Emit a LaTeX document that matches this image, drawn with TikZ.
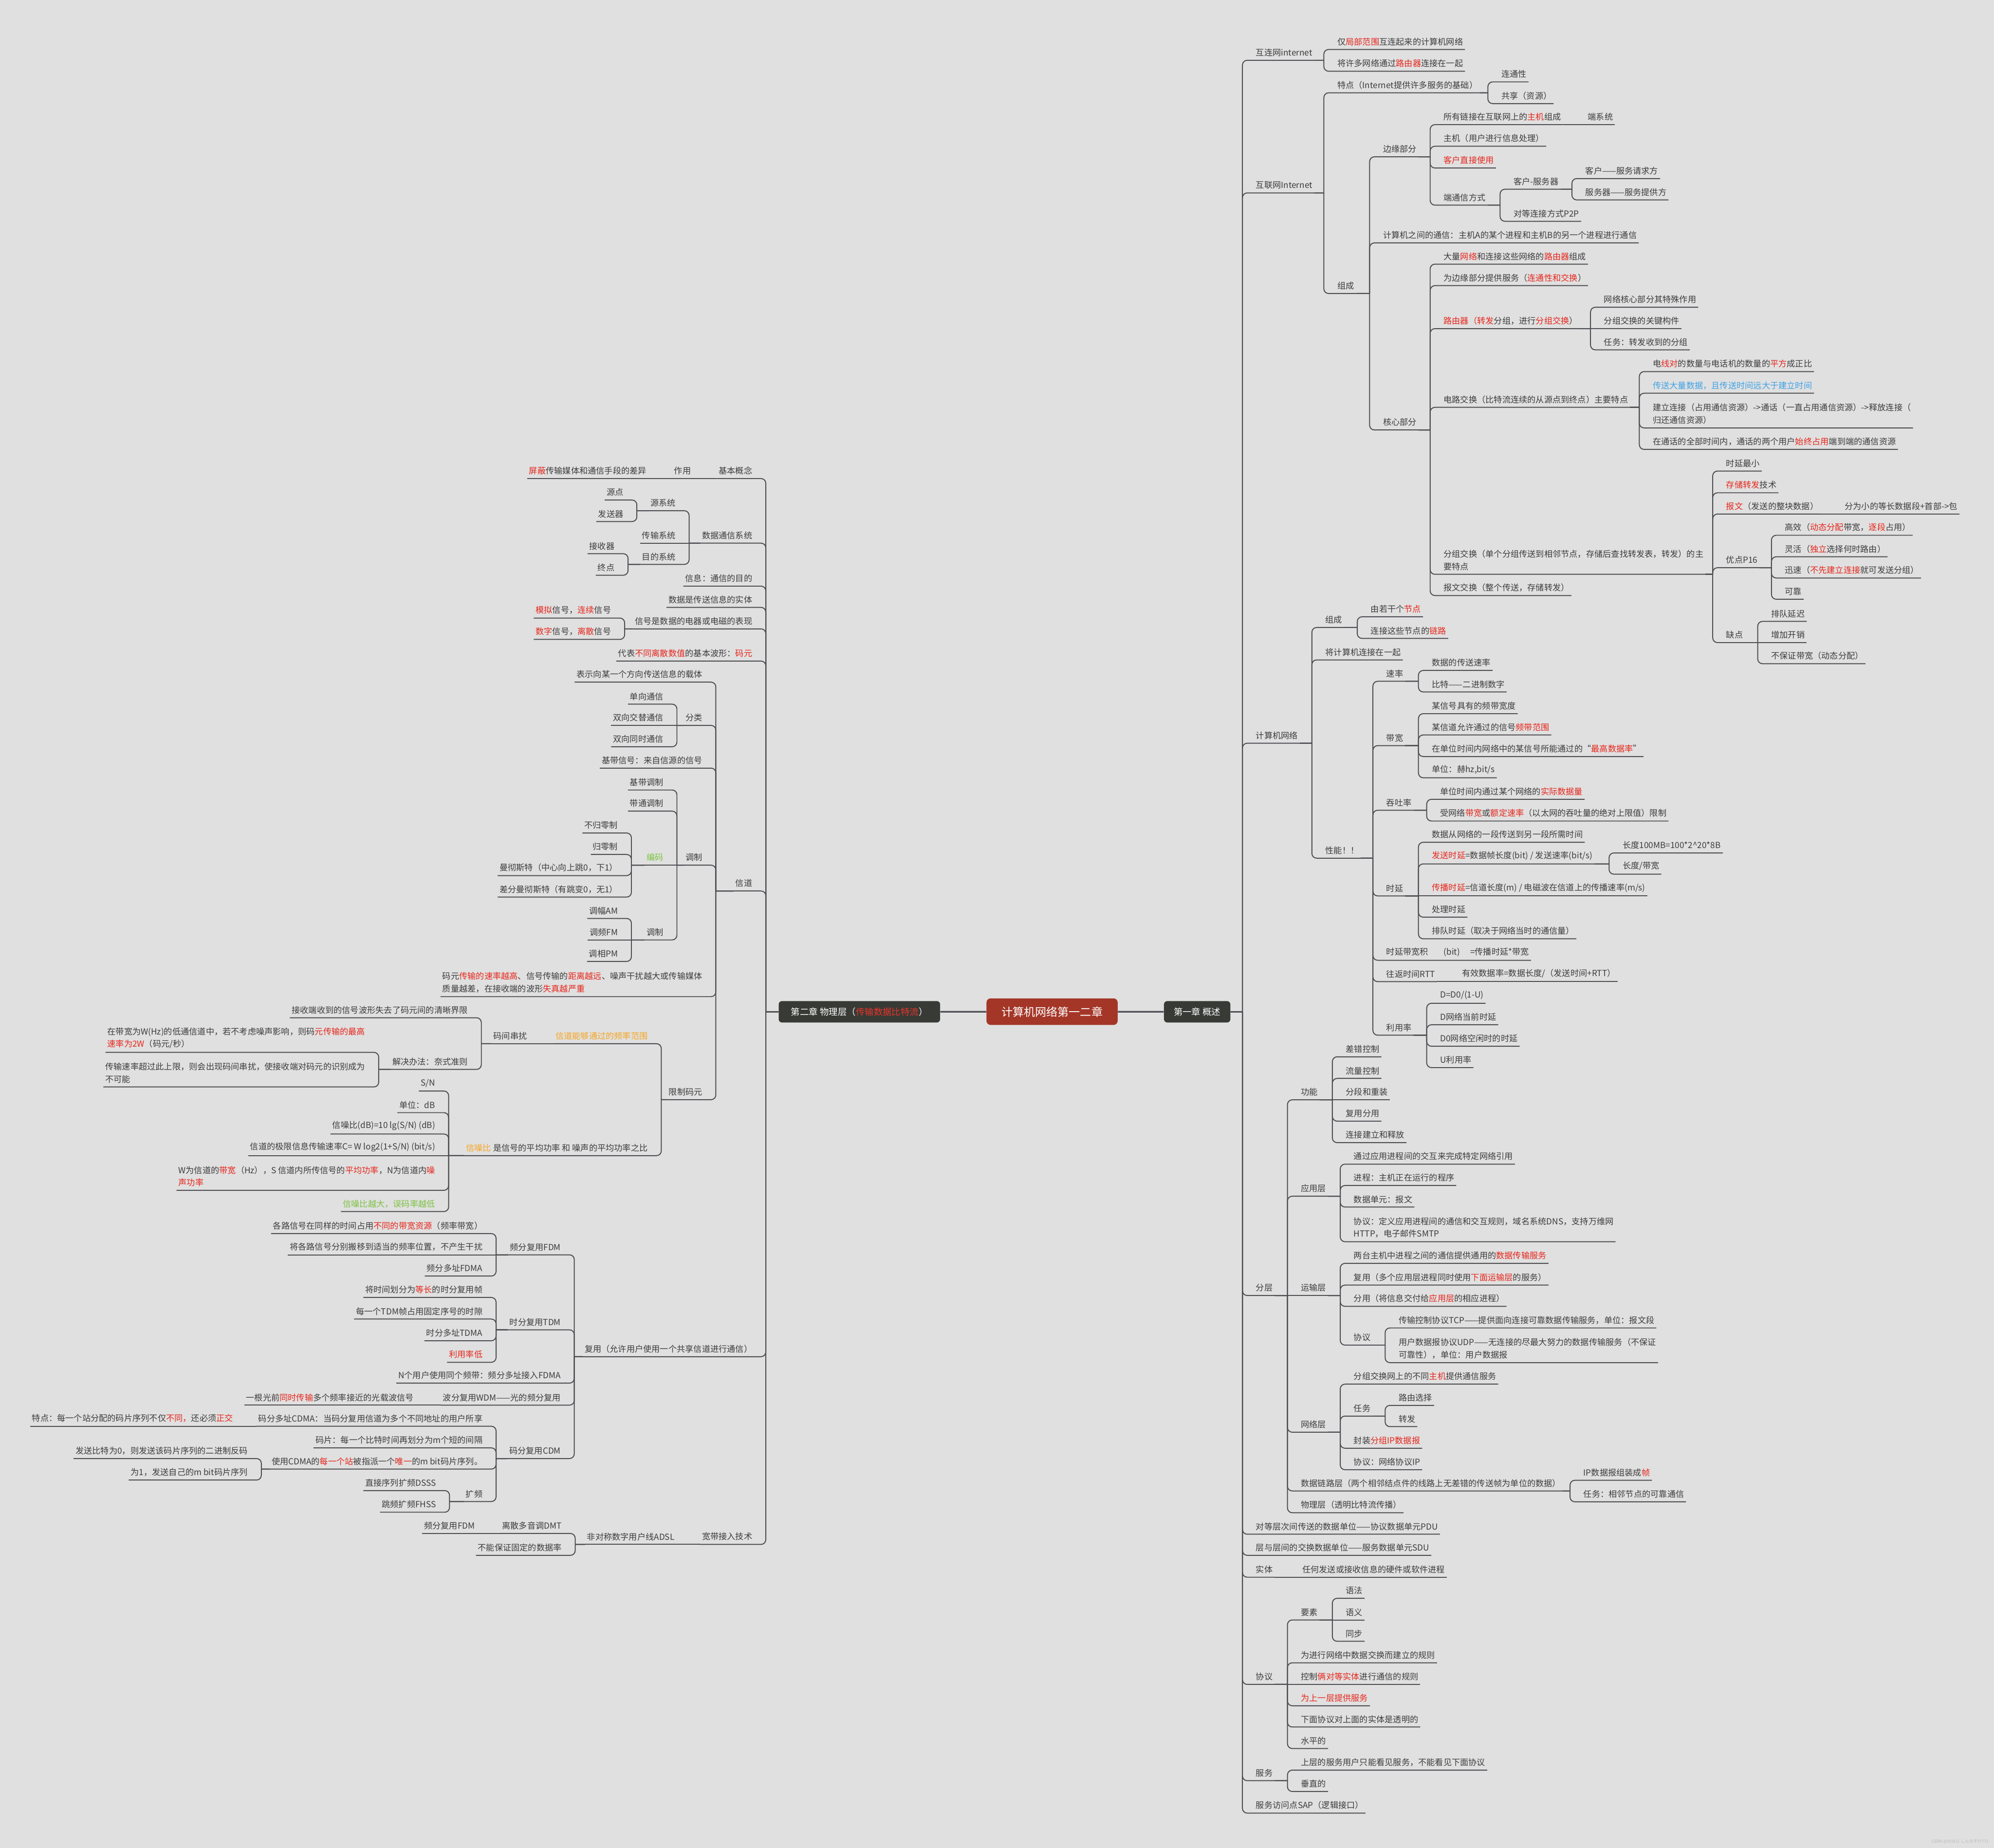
\documentclass[tikz,border=0pt]{standalone}
\usepackage{fontspec}
\setmainfont{Noto Sans CJK SC}
\usepackage{tikz}

\definecolor{paper}{HTML}{E0E0E0}
\definecolor{ink}{HTML}{3C3C3C}
\definecolor{wirec}{HTML}{4D4D52}
\definecolor{hot}{HTML}{E6261C}
\definecolor{sky}{HTML}{3FA2E6}
\definecolor{leaf}{HTML}{7DC242}
\definecolor{amber}{HTML}{F5A623}
\definecolor{chapbg}{HTML}{383A35}
\definecolor{rootbg}{HTML}{A43628}
\definecolor{chapred}{HTML}{E8352B}

\newcommand{\redt}[1]{\textcolor{hot}{#1}}
\newcommand{\bluet}[1]{\textcolor{sky}{#1}}
\newcommand{\greent}[1]{\textcolor{leaf}{#1}}
\newcommand{\oranget}[1]{\textcolor{amber}{#1}}

\begin{document}
\begin{tikzpicture}[x=0.3733mm, y=-0.3733mm,
    txt/.style={font=\fontsize{7pt}{10.4pt}\selectfont, text=ink, inner xsep=0.5mm, inner ysep=1.05mm},
    rnode/.style={txt, anchor=south west, xshift=3.4mm, align=left},
    lnode/.style={txt, anchor=south east, xshift=-3.4mm, align=right},
    chap/.style={rectangle, rounded corners=1mm, fill=chapbg, text=white, font=\fontsize{7.5pt}{9pt}\selectfont, minimum height=6.3mm},
    rootbox/.style={rectangle, rounded corners=1.2mm, fill=rootbg, text=white, font=\fontsize{9.4pt}{11pt}\selectfont, minimum width=38.5mm, minimum height=7.8mm},
    wire/.style={draw=wirec, line width=0.8pt},
    trunk/.style={draw=wirec, line width=1.3pt},
    rlink/.style={wire, to path={(\tikztostart.south east) -- ([xshift=-3.4mm]\tikztotarget.south west |- \tikztostart.south east) ([xshift=-3.4mm]\tikztotarget.south west |- \tikztostart.south east) [rounded corners=1.4mm] |- (\tikztotarget.south east)}},
    rline/.style={wire, to path={(\tikztostart.south east) -- (\tikztotarget.south east)}},
    rtrunk/.style={wire, to path={(\tikztostart.east) -- ([xshift=-3.4mm]\tikztotarget.south west |- \tikztostart.east) ([xshift=-3.4mm]\tikztotarget.south west |- \tikztostart.east) [rounded corners=1.4mm] |- (\tikztotarget.south east)}},
    llink/.style={wire, to path={(\tikztostart.south west) -- ([xshift=3.4mm]\tikztotarget.south east |- \tikztostart.south west) ([xshift=3.4mm]\tikztotarget.south east |- \tikztostart.south west) [rounded corners=1.4mm] |- (\tikztotarget.south west)}},
    lline/.style={wire, to path={(\tikztostart.south west) -- (\tikztotarget.south west)}},
    ltrunk/.style={wire, to path={(\tikztostart.west) -- ([xshift=3.4mm]\tikztotarget.south east |- \tikztostart.west) ([xshift=3.4mm]\tikztotarget.south east |- \tikztostart.west) [rounded corners=1.4mm] |- (\tikztotarget.south west)}},
    wmark/.style={font=\fontsize{3.5pt}{4pt}\selectfont, text=gray!55, anchor=east, inner sep=0pt}
]
\useasboundingbox (0,0) rectangle (1568,1453);
\fill[paper] (0,0) rectangle (1568,1453);

% Centre and chapters
\node[rootbox] (root) at (827.3,795.5) {计算机网络第一二章};
\node[chap, minimum width=19.5mm] (ch1) at (941.4,795.6) {第一章 概述};
\node[chap, minimum width=47.4mm] (ch2) at (675.8,795.6) {第二章 物理层（\textcolor{chapred}{传输数据比特流}）};
\draw[trunk] (ch2) -- (root);
\draw[trunk] (root) -- (ch1);

% Chapter 1: 互连网
\node[rnode] (r1) at (977,47.4) {互连网internet};
\node[rnode] (r1a) at (1041,38.9) {仅\redt{局部范围}互连起来的计算机网络};
\node[rnode] (r1b) at (1041,56.0) {将许多网络通过\redt{路由器}连接在一起};

% 互联网
\node[rnode] (r2) at (977,151.7) {互联网Internet};
\node[rnode] (r2a) at (1041,73.0) {特点（Internet提供许多服务的基础）};
\node[rnode] (r2a1) at (1170,64.4) {连通性};
\node[rnode] (r2a2) at (1170,81.5) {共享（资源）};
\node[rnode] (r2b) at (1041,230.8) {组成};
\node[rnode] (r2b1) at (1077,123.3) {边缘部分};
\node[rnode] (r2b1a) at (1124.6,98.0) {所有链接在互联网上的\redt{主机}组成};
\node[rnode] (r2b1a1) at (1238,98.0) {端系统};
\node[rnode] (r2b1b) at (1124.6,115.0) {主机（用户进行信息处理）};
\node[rnode] (r2b1c) at (1124.6,132.1) {\redt{客户直接使用}};
\node[rnode] (r2b1d) at (1124.6,161.3) {端通信方式};
\node[rnode] (r2b1d1) at (1179.6,148.8) {客户-服务器};
\node[rnode] (r2b1d1a) at (1236.1,140.4) {客户——服务请求方};
\node[rnode] (r2b1d1b) at (1236.1,157.2) {服务器——服务提供方};
\node[rnode] (r2b1d2) at (1179.6,174.0) {对等连接方式P2P};
\node[rnode] (r2b2) at (1077,191.0) {计算机之间的通信：主机A的某个进程和主机B的另一个进程进行通信};
\node[rnode] (r2b3) at (1077,338.1) {核心部分};
\node[rnode] (r2b3a) at (1124.6,207.7) {大量\redt{网络}和连接这些网络的\redt{路由器}组成};
\node[rnode] (r2b3b) at (1124.6,224.6) {为边缘部分提供服务（\redt{连通性和交换}）};
\node[rnode] (r2b3c) at (1124.6,258.4) {\redt{路由器（转发}分组，进行\redt{分组交换}）};
\node[rnode] (r2b3c1) at (1250.7,241.6) {网络核心部分其特殊作用};
\node[rnode] (r2b3c2) at (1250.7,258.4) {分组交换的关键构件};
\node[rnode] (r2b3c3) at (1250.7,275.1) {任务：转发收到的分组};
\node[rnode] (r2b3d) at (1124.6,320.3) {电路交换（比特流连续的从源点到终点）主要特点};
\node[rnode] (r2b3d1) at (1289.1,292.2) {电\redt{线对}的数量与电话机的数量的\redt{平方}成正比};
\node[rnode] (r2b3d2) at (1289.1,309.2) {\bluet{传送大量数据，且传送时间远大于建立时间}};
\node[rnode] (r2b3d3) at (1289.1,336.5) {建立连接（占用通信资源）->通话（一直占用通信资源）->释放连接（\\归还通信资源）};
\node[rnode] (r2b3d4) at (1289.1,353.4) {在通话的全部时间内，通话的两个用户\redt{始终占用}端到端的通信资源};
\node[rnode] (r2b3e) at (1124.6,451.6) {分组交换（单个分组传送到相邻节点，存储后查找转发表，转发）的主\\要特点};
\node[rnode] (r2b3e1) at (1346.8,370.4) {时延最小};
\node[rnode] (r2b3e2) at (1346.8,387.5) {\redt{存储转发}技术};
\node[rnode] (r2b3e3) at (1346.8,404.2) {\redt{报文}（发送的整块数据）};
\node[rnode] (r2b3e3a) at (1440,404.2) {分为小的等长数据段+首部->包};
\node[rnode] (r2b3e4) at (1346.8,446.4) {优点P16};
\node[rnode] (r2b3e4a) at (1393,420.9) {高效（\redt{动态分配}带宽，\redt{逐段}占用）};
\node[rnode] (r2b3e4b) at (1393,437.8) {灵活（\redt{独立}选择何时路由）};
\node[rnode] (r2b3e4c) at (1393,454.5) {迅速（\redt{不先建立连接}就可发送分组）};
\node[rnode] (r2b3e4d) at (1393,471.2) {可靠};
\node[rnode] (r2b3e5) at (1346.8,505.3) {缺点};
\node[rnode] (r2b3e5a) at (1382.2,488.6) {排队延迟};
\node[rnode] (r2b3e5b) at (1382.2,505.3) {增加开销};
\node[rnode] (r2b3e5c) at (1382.2,521.9) {不保证带宽（动态分配）};
\node[rnode] (r2b3f) at (1124.6,468.3) {报文交换（整个传送，存储转发）};

% 计算机网络
\node[rnode] (r3) at (977,584.4) {计算机网络};
\node[rnode] (r3a) at (1031.6,493.4) {组成};
\node[rnode] (r3a1) at (1067.3,485.0) {由若干个\redt{节点}};
\node[rnode] (r3a2) at (1067.3,502.0) {连接这些节点的\redt{链路}};
\node[rnode] (r3b) at (1031.6,518.9) {将计算机连接在一起};
\node[rnode] (r3c) at (1031.6,674.8) {性能！！};
\node[rnode] (r3c1) at (1079.6,535.7) {速率};
\node[rnode] (r3c1a) at (1115.4,527.2) {数据的传送速率};
\node[rnode] (r3c1b) at (1115.4,544.1) {比特——二进制数字};
\node[rnode] (r3c2) at (1079.6,586.3) {带宽};
\node[rnode] (r3c2a) at (1115.4,561.2) {某信号具有的频带宽度};
\node[rnode] (r3c2b) at (1115.4,577.9) {某信道允许通过的信号\redt{频带范围}};
\node[rnode] (r3c2c) at (1115.4,594.9) {在单位时间内网络中的某信号所能通过的“\redt{最高数据率}”};
\node[rnode] (r3c2d) at (1115.4,611.6) {单位：赫hz,bit/s};
\node[rnode] (r3c3) at (1079.6,637.1) {吞吐率};
\node[rnode] (r3c3a) at (1121.9,628.5) {单位时间内通过某个网络的\redt{实际数据量}};
\node[rnode] (r3c3b) at (1121.9,645.6) {受网络\redt{带宽}或\redt{额定速率}（以太网的吞吐量的绝对上限值）限制};
\node[rnode] (r3c4) at (1079.6,704.5) {时延};
\node[rnode] (r3c4a) at (1115.4,662.3) {数据从网络的一段传送到另一段所需时间};
\node[rnode] (r3c4b) at (1115.4,679.3) {\redt{发送时延}=数据帧长度(bit) / 发送速率(bit/s)};
\node[rnode] (r3c4b1) at (1265.3,670.7) {长度100MB=100*2\textasciicircum20*8B};
\node[rnode] (r3c4b2) at (1265.3,687.4) {长度/带宽};
\node[rnode] (r3c4c) at (1115.4,704.5) {\redt{传播时延}=信道长度(m) / 电磁波在信道上的传播速率(m/s)};
\node[rnode] (r3c4d) at (1115.4,721.2) {处理时延};
\node[rnode] (r3c4e) at (1115.4,738.2) {排队时延（取决于网络当时的通信量）};
\node[rnode] (r3c5) at (1079.6,755.1) {时延带宽积\hspace{4.5mm}(bit)\hspace{3mm}=传播时延*带宽};
\node[rnode] (r3c6) at (1079.6,771.9) {往返时间RTT};
\node[rnode] (r3c6a) at (1139,771.9) {有效数据率=数据长度/（发送时间+RTT）};
\node[rnode] (r3c7) at (1079.6,814.0) {利用率};
\node[rnode] (r3c7a) at (1121.9,788.9) {D=D0/(1-U)};
\node[rnode] (r3c7b) at (1121.9,805.8) {D网络当前时延};
\node[rnode] (r3c7c) at (1121.9,822.7) {D0网络空闲时的时延};
\node[rnode] (r3c7d) at (1121.9,839.5) {U利用率};

% 分层
\node[rnode] (r4) at (977,1018.7) {分层};
\node[rnode] (r4a) at (1012.4,864.8) {功能};
\node[rnode] (r4a1) at (1047.7,831.0) {差错控制};
\node[rnode] (r4a2) at (1047.7,848.0) {流量控制};
\node[rnode] (r4a3) at (1047.7,864.8) {分段和重装};
\node[rnode] (r4a4) at (1047.7,881.6) {复用分用};
\node[rnode] (r4a5) at (1047.7,898.5) {连接建立和释放};
\node[rnode] (r4b) at (1012.4,940.6) {应用层};
\node[rnode] (r4b1) at (1053.9,915.4) {通过应用进程间的交互来完成特定网络引用};
\node[rnode] (r4b2) at (1053.9,932.2) {进程：主机正在运行的程序};
\node[rnode] (r4b3) at (1053.9,949.1) {数据单元：报文};
\node[rnode] (r4b4) at (1053.9,976.4) {协议：定义应用进程间的通信和交互规则，域名系统DNS，支持万维网\\HTTP，电子邮件SMTP};
\node[rnode] (r4c) at (1012.4,1018.7) {运输层};
\node[rnode] (r4c1) at (1053.9,993.4) {两台主机中进程之间的通信提供通用的\redt{数据传输服务}};
\node[rnode] (r4c2) at (1053.9,1010.5) {复用（多个应用层进程同时使用\redt{下面运输层}的服务）};
\node[rnode] (r4c3) at (1053.9,1027.2) {分用（将信息交付给\redt{应用层}的相应进程）};
\node[rnode] (r4c4) at (1053.9,1057.7) {协议};
\node[rnode] (r4c4a) at (1089.2,1044.2) {传输控制协议TCP——提供面向连接可靠数据传输服务，单位：报文段};
\node[rnode] (r4c4b) at (1089.2,1071.5) {用户数据报协议UDP——无连接的尽最大努力的数据传输服务（不保证\\可靠性），单位：用户数据报};
\node[rnode] (r4d) at (1012.4,1126.2) {网络层};
\node[rnode] (r4d1) at (1053.9,1088.4) {分组交换网上的不同\redt{主机}提供通信服务};
\node[rnode] (r4d2) at (1053.9,1113.5) {任务};
\node[rnode] (r4d2a) at (1089.2,1105.1) {路由选择};
\node[rnode] (r4d2b) at (1089.2,1121.8) {转发};
\node[rnode] (r4d3) at (1053.9,1138.8) {封装\redt{分组IP数据报}};
\node[rnode] (r4d4) at (1053.9,1155.7) {协议：网络协议IP};
\node[rnode] (r4e) at (1012.4,1172.4) {数据链路层（两个相邻结点件的线路上无差错的传送帧为单位的数据）};
\node[rnode] (r4e1) at (1234.6,1164.0) {IP数据报组装成\redt{帧}};
\node[rnode] (r4e2) at (1234.6,1180.9) {任务：相邻节点的可靠通信};
\node[rnode] (r4f) at (1012.4,1189.5) {物理层（透明比特流传播）};

% PDU, SDU, 实体, 协议, 服务, SAP
\node[rnode] (r5) at (977,1206.4) {对等层次间传送的数据单位——协议数据单元PDU};
\node[rnode] (r6) at (977,1223.0) {层与层间的交换数据单位——服务数据单元SDU};
\node[rnode] (r7) at (977,1240.2) {实体};
\node[rnode] (r7a) at (1013.5,1240.2) {任何发送或接收信息的硬件或软件进程};
\node[rnode] (r8) at (977,1324.5) {协议};
\node[rnode] (r8a) at (1012.4,1273.8) {要素};
\node[rnode] (r8a1) at (1047.7,1256.8) {语法};
\node[rnode] (r8a2) at (1047.7,1273.8) {语义};
\node[rnode] (r8a3) at (1047.7,1290.6) {同步};
\node[rnode] (r8b) at (1012.4,1307.5) {为进行网络中数据交换而建立的规则};
\node[rnode] (r8c) at (1012.4,1324.5) {控制\redt{俩对等实体}进行通信的规则};
\node[rnode] (r8d) at (1012.4,1341.3) {\redt{为上一层提供服务}};
\node[rnode] (r8e) at (1012.4,1358.0) {下面协议对上面的实体是透明的};
\node[rnode] (r8f) at (1012.4,1374.9) {水平的};
\node[rnode] (r9) at (977,1400.2) {服务};
\node[rnode] (r9a) at (1012.4,1391.9) {上层的服务用户只能看见服务，不能看见下面协议};
\node[rnode] (r9b) at (1012.4,1408.7) {垂直的};
\node[rnode] (r10) at (977,1425.7) {服务访问点SAP（逻辑接口）};

% Chapter 1 links
\path[rtrunk] (ch1) edge (r1) edge (r2) edge (r3) edge (r4) edge (r5) edge (r6) edge (r7) edge (r8) edge (r9) edge (r10);
\path[rlink] (r1) edge (r1a) edge (r1b);
\path[rlink] (r2) edge (r2a) edge (r2b);
\path[rlink] (r2a) edge (r2a1) edge (r2a2);
\path[rlink] (r2b) edge (r2b1) edge (r2b2) edge (r2b3);
\path[rlink] (r2b1) edge (r2b1a) edge (r2b1b) edge (r2b1c) edge (r2b1d);
\path[rline] (r2b1a) edge (r2b1a1);
\path[rlink] (r2b1d) edge (r2b1d1) edge (r2b1d2);
\path[rlink] (r2b1d1) edge (r2b1d1a) edge (r2b1d1b);
\path[rlink] (r2b3) edge (r2b3a) edge (r2b3b) edge (r2b3c) edge (r2b3d) edge (r2b3e) edge (r2b3f);
\path[rlink] (r2b3c) edge (r2b3c1) edge[rline] (r2b3c2) edge (r2b3c3);
\path[rlink] (r2b3d) edge (r2b3d1) edge (r2b3d2) edge (r2b3d3) edge (r2b3d4);
\path[rlink] (r2b3e) edge (r2b3e1) edge (r2b3e2) edge (r2b3e3) edge (r2b3e4) edge (r2b3e5);
\path[rline] (r2b3e3) edge (r2b3e3a);
\path[rlink] (r2b3e4) edge (r2b3e4a) edge (r2b3e4b) edge (r2b3e4c) edge (r2b3e4d);
\path[rlink] (r2b3e5) edge (r2b3e5a) edge[rline] (r2b3e5b) edge (r2b3e5c);
\path[rlink] (r3) edge (r3a) edge (r3b) edge (r3c);
\path[rlink] (r3a) edge (r3a1) edge (r3a2);
\path[rlink] (r3c) edge (r3c1) edge (r3c2) edge (r3c3) edge (r3c4) edge (r3c5) edge (r3c6) edge (r3c7);
\path[rlink] (r3c1) edge (r3c1a) edge (r3c1b);
\path[rlink] (r3c2) edge (r3c2a) edge (r3c2b) edge (r3c2c) edge (r3c2d);
\path[rlink] (r3c3) edge (r3c3a) edge (r3c3b);
\path[rlink] (r3c4) edge (r3c4a) edge (r3c4b) edge[rline] (r3c4c) edge (r3c4d) edge (r3c4e);
\path[rlink] (r3c4b) edge (r3c4b1) edge (r3c4b2);
\path[rline] (r3c6) edge (r3c6a);
\path[rlink] (r3c7) edge (r3c7a) edge (r3c7b) edge (r3c7c) edge (r3c7d);
\path[rlink] (r4) edge (r4a) edge (r4b) edge[rline] (r4c) edge (r4d) edge (r4e) edge (r4f);
\path[rlink] (r4a) edge (r4a1) edge (r4a2) edge[rline] (r4a3) edge (r4a4) edge (r4a5);
\path[rlink] (r4b) edge (r4b1) edge (r4b2) edge (r4b3) edge (r4b4);
\path[rlink] (r4c) edge (r4c1) edge (r4c2) edge (r4c3) edge (r4c4);
\path[rlink] (r4c4) edge (r4c4a) edge (r4c4b);
\path[rlink] (r4d) edge (r4d1) edge (r4d2) edge (r4d3) edge (r4d4);
\path[rlink] (r4d2) edge (r4d2a) edge (r4d2b);
\path[rlink] (r4e) edge (r4e1) edge (r4e2);
\path[rline] (r7) edge (r7a);
\path[rlink] (r8) edge (r8a) edge (r8b) edge[rline] (r8c) edge (r8d) edge (r8e) edge (r8f);
\path[rlink] (r8a) edge (r8a1) edge[rline] (r8a2) edge (r8a3);
\path[rlink] (r9) edge (r9a) edge (r9b);

% Chapter 2: 基本概念
\node[lnode] (l1) at (602.2,376.3) {基本概念};
\node[lnode] (l1a) at (554,376.3) {作用};
\node[lnode] (l1a1) at (519,376.3) {\redt{屏蔽}传输媒体和通信手段的差异};
\node[lnode] (l2) at (602.2,427.1) {数据通信系统};
\node[lnode] (l2a) at (541.9,401.6) {源系统};
\node[lnode] (l2a1) at (500.8,393.2) {源点};
\node[lnode] (l2a2) at (500.8,410.1) {发送器};
\node[lnode] (l2b) at (541.9,427.1) {传输系统};
\node[lnode] (l2c) at (541.9,443.8) {目的系统};
\node[lnode] (l2c1) at (493.9,435.4) {接收器};
\node[lnode] (l2c2) at (493.9,452.3) {终点};
\node[lnode] (l3) at (602.2,460.9) {信息：通信的目的};
\node[lnode] (l4) at (602.2,477.6) {数据是传送信息的实体};
\node[lnode] (l5) at (602.2,494.5) {信号是数据的电器或电磁的表现};
\node[lnode] (l5a) at (491.2,486.0) {\redt{模拟}信号，\redt{连续}信号};
\node[lnode] (l5b) at (491.2,502.8) {\redt{数字}信号，\redt{离散}信号};
\node[lnode] (l6) at (602.2,519.8) {代表\redt{不同离散数值}的基本波形：\redt{码元}};

% 信道
\node[lnode] (l7) at (602.2,700.6) {信道};
\node[lnode] (l7a) at (562.9,536.4) {表示向某一个方向传送信息的载体};
\node[lnode] (l7b) at (562.9,570.4) {分类};
\node[lnode] (l7b1) at (532.3,553.7) {单向通信};
\node[lnode] (l7b2) at (532.3,570.4) {双向交替通信};
\node[lnode] (l7b3) at (532.3,587.2) {双向同时通信};
\node[lnode] (l7c) at (562.9,604.0) {基带信号：来自信源的信号};
\node[lnode] (l7d) at (562.9,680.3) {调制};
\node[lnode] (l7d1) at (532.3,621.2) {基带调制};
\node[lnode] (l7d2) at (532.3,637.8) {带通调制};
\node[lnode] (l7d3) at (532.3,680.3) {\greent{编码}};
\node[lnode] (l7d3a) at (496.5,655.0) {不归零制};
\node[lnode] (l7d3b) at (496.5,671.9) {归零制};
\node[lnode] (l7d3c) at (496.5,688.5) {曼彻斯特（中心向上跳0，下1）};
\node[lnode] (l7d3d) at (496.5,705.4) {差分曼彻斯特（有跳变0，无1）};
\node[lnode] (l7d4) at (532.3,739.1) {调制};
\node[lnode] (l7d4a) at (496.5,722.2) {调幅AM};
\node[lnode] (l7d4b) at (496.5,739.1) {调频FM};
\node[lnode] (l7d4c) at (496.5,756.0) {调相PM};
\node[lnode, align=left] (l7e) at (562.9,783.7) {码元\redt{传输的速率越高}、信号传输的\redt{距离越远}、噪声干扰越大或传输媒体\\质量越差，在接收端的波形\redt{失真越严重}};
\node[lnode] (l7f) at (562.9,864.7) {限制码元};
\node[lnode] (l7f1) at (520.0,820.7) {\oranget{信道能够通过的频率范围}};
\node[lnode] (l7f1a) at (425,820.7) {码间串扰};
\node[lnode] (l7f1a1) at (378.5,800.3) {接收端收到的信号波形失去了码元间的清晰界限};
\node[lnode] (l7f1a2) at (378.5,840.9) {解决办法：奈式准则};
\node[lnode, align=left] (l7f1a2a) at (297.8,827.5) {在带宽为W(Hz)的低通信道中，若不考虑噪声影响，则码\redt{元传输的最高}\\\redt{速率为2W}（码元/秒）};
\node[lnode, align=left] (l7f1a2b) at (297.8,854.7) {传输速率超过此上限，则会出现码间串扰，使接收端对码元的识别成为\\不可能};
\node[lnode] (l7f2) at (520.0,908.7) {\oranget{信噪比} 是信号的平均功率 和 噪声的平均功率之比};
\node[lnode] (l7f2a) at (352.8,857.9) {S/N};
\node[lnode] (l7f2b) at (352.8,874.9) {单位：dB};
\node[lnode] (l7f2c) at (352.8,891.7) {信噪比(dB)=10 lg(S/N) (dB)};
\node[lnode] (l7f2d) at (352.8,908.7) {信道的极限信息传输速率C= W log2(1+S/N) (bit/s)};
\node[lnode, align=left] (l7f2e) at (352.8,936.0) {W为信道的\redt{带宽}（Hz），S 信道内所传信号的\redt{平均功率}，N为信道内\redt{噪}\\\redt{声功率}};
\node[lnode] (l7f2f) at (352.8,952.7) {\greent{信噪比越大，误码率越低}};

% 复用
\node[lnode] (l8) at (602.2,1066.8) {复用（允许用户使用一个共享信道进行通信）};
\node[lnode] (l8a) at (451.6,986.7) {频分复用FDM};
\node[lnode] (l8a1) at (390.1,970.0) {各路信号在同样的时间占用\redt{不同的带宽资源}（频率带宽）};
\node[lnode] (l8a2) at (390.1,986.7) {将各路信号分别搬移到适当的频率位置，不产生干扰};
\node[lnode] (l8a3) at (390.1,1003.4) {频分多址FDMA};
\node[lnode] (l8b) at (451.6,1045.7) {时分复用TDM};
\node[lnode] (l8b1) at (390.1,1020.2) {将时间划分为\redt{等长}的时分复用帧};
\node[lnode] (l8b2) at (390.1,1037.2) {每一个TDM帧占用固定序号的时隙};
\node[lnode] (l8b3) at (390.1,1054.3) {时分多址TDMA};
\node[lnode] (l8b4) at (390.1,1071.2) {\redt{利用率低}};
\node[lnode] (l8c) at (451.6,1087.6) {N个用户使用同个频带：频分多址接入FDMA};
\node[lnode] (l8d) at (451.6,1104.9) {波分复用WDM——光的频分复用};
\node[lnode] (l8d1) at (336,1104.9) {一根光前\redt{同时传输}多个频率接近的光载波信号};
\node[lnode] (l8e) at (451.6,1146.9) {码分复用CDM};
\node[lnode] (l8e1) at (390.1,1121.5) {码分多址CDMA：当码分复用信道为多个不同地址的用户所享};
\node[lnode] (l8e1a) at (194,1121.5) {特点：每一个站分配的码片序列不仅\redt{不同，}还必须\redt{正交}};
\node[lnode] (l8e2) at (390.1,1138.5) {码片：每一个比特时间再划分为m个短的间隔};
\node[lnode] (l8e3) at (390.1,1155.2) {使用CDMA的\redt{每一个站}被指派一个\redt{唯一}的m bit码片序列。};
\node[lnode] (l8e3a) at (205.5,1146.9) {发送比特为0，则发送该码片序列的二进制反码};
\node[lnode] (l8e3b) at (205.5,1163.8) {为1，发送自己的m bit码片序列};
\node[lnode] (l8e4) at (390.1,1180.7) {扩频};
\node[lnode] (l8e4a) at (353.5,1172.1) {直接序列扩频DSSS};
\node[lnode] (l8e4b) at (353.5,1189.1) {跳频扩频FHSS};

% 宽带接入技术
\node[lnode] (l9) at (602.2,1214.4) {宽带接入技术};
\node[lnode] (l9a) at (541,1214.4) {非对称数字用户线ADSL};
\node[lnode] (l9a1) at (452.3,1205.8) {离散多音调DMT};
\node[lnode] (l9a1a) at (384,1205.8) {频分复用FDM};
\node[lnode] (l9a2) at (452.3,1223.0) {不能保证固定的数据率};

% Chapter 2 links
\path[ltrunk] (ch2) edge (l1) edge (l2) edge (l3) edge (l4) edge (l5) edge (l6) edge (l7) edge (l8) edge (l9);
\path[lline] (l1) edge (l1a);
\path[lline] (l1a) edge (l1a1);
\path[llink] (l2) edge (l2a) edge[lline] (l2b) edge (l2c);
\path[llink] (l2a) edge (l2a1) edge (l2a2);
\path[llink] (l2c) edge (l2c1) edge (l2c2);
\path[llink] (l5) edge (l5a) edge (l5b);
\path[llink] (l7) edge (l7a) edge (l7b) edge (l7c) edge (l7d) edge (l7e) edge (l7f);
\path[llink] (l7b) edge (l7b1) edge[lline] (l7b2) edge (l7b3);
\path[llink] (l7d) edge (l7d1) edge (l7d2) edge[lline] (l7d3) edge (l7d4);
\path[llink] (l7d3) edge (l7d3a) edge (l7d3b) edge (l7d3c) edge (l7d3d);
\path[llink] (l7d4) edge (l7d4a) edge[lline] (l7d4b) edge (l7d4c);
\path[llink] (l7f) edge (l7f1) edge (l7f2);
\path[lline] (l7f1) edge (l7f1a);
\path[llink] (l7f1a) edge (l7f1a1) edge (l7f1a2);
\path[llink] (l7f1a2) edge (l7f1a2a) edge (l7f1a2b);
\path[llink] (l7f2) edge (l7f2a) edge (l7f2b) edge (l7f2c) edge[lline] (l7f2d) edge (l7f2e) edge (l7f2f);
\path[llink] (l8) edge (l8a) edge (l8b) edge (l8c) edge (l8d) edge (l8e);
\path[llink] (l8a) edge (l8a1) edge[lline] (l8a2) edge (l8a3);
\path[llink] (l8b) edge (l8b1) edge (l8b2) edge (l8b3) edge (l8b4);
\path[lline] (l8d) edge (l8d1);
\path[llink] (l8e) edge (l8e1) edge (l8e2) edge (l8e3) edge (l8e4);
\path[lline] (l8e1) edge (l8e1a);
\path[llink] (l8e3) edge (l8e3a) edge (l8e3b);
\path[llink] (l8e4) edge (l8e4a) edge (l8e4b);
\path[lline] (l9) edge (l9a);
\path[llink] (l9a) edge (l9a1) edge (l9a2);
\path[lline] (l9a1) edge (l9a1a);

% Watermark
\node[wmark] (wm) at (1564,1448) {CSDN @のはら しんのすけ771};

\end{tikzpicture}
\end{document}
